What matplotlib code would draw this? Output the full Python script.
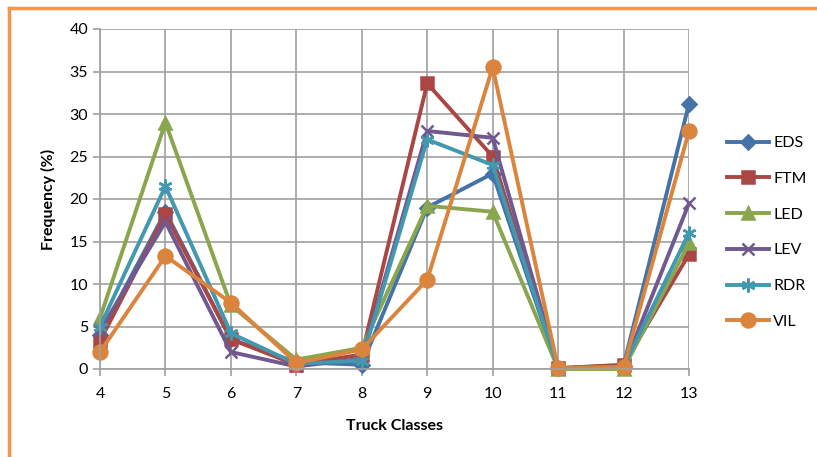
import matplotlib
matplotlib.use("Agg")
import matplotlib.pyplot as plt
from matplotlib.lines import Line2D

classes = [4, 5, 6, 7, 8, 9, 10, 11, 12, 13]
eds = [4.0, 18.5, 3.5, 0.8, 0.5, 19.0, 23.0, 0.1, 0.4, 31.2]
ftm = [3.3, 18.2, 3.5, 0.5, 1.7, 33.6, 25.0, 0.1, 0.5, 13.5]
led = [6.0, 29.0, 7.5, 1.1, 2.5, 19.2, 18.5, 0.0, 0.0, 14.8]
lev = [4.5, 17.3, 2.0, 0.3, 1.2, 28.0, 27.2, 0.1, 0.2, 19.5]
rdr = [5.0, 21.5, 4.2, 0.6, 1.0, 27.0, 24.0, 0.1, 0.3, 16.0]
vil = [2.0, 13.3, 7.8, 0.7, 2.3, 10.5, 35.5, 0.1, 0.2, 28.0]

series = [
    ("EDS", eds, "#4572A7", "D", 7),
    ("FTM", ftm, "#AA4643", "s", 9),
    ("LED", led, "#89A54E", "^", 9),
    ("LEV", lev, "#71588F", "x", 9),
    ("RDR", rdr, "#4198AF", (6, 2, 0), 10),
    ("VIL", vil, "#DB843D", "o", 10),
]

plt.rcParams['font.family'] = ['Lato', 'DejaVu Sans']

fig = plt.figure(figsize=(8.17, 4.57), dpi=100)
ax = fig.add_axes([100 / 817, 88 / 457, 589 / 817, 340 / 457])

for name, vals, col, mk, ms in series:
    ax.plot(classes, vals, color=col, lw=2.8, marker=mk, markersize=ms,
            markeredgecolor=col, markeredgewidth=1.8, label=name, clip_on=False)

ax.set_xlim(4, 13)
ax.set_ylim(0, 40)
ax.set_xticks(classes)
ax.set_yticks(range(0, 41, 5))
ax.grid(True, color="#A0A0A0", lw=1.2)
ax.set_axisbelow(True)
for s in ["top", "right"]:
    ax.spines[s].set_visible(False)
for s in ["left", "bottom"]:
    ax.spines[s].set_color("#A0A0A0")
    ax.spines[s].set_linewidth(1.2)
ax.tick_params(axis="both", colors="#A0A0A0", labelcolor="black", labelsize=11.5,
               length=5, width=1.2)
ax.tick_params(axis="x", pad=8)
ax.set_xlabel("Truck Classes", fontsize=11.5, fontweight="bold", labelpad=13)
ax.set_ylabel("Frequency (%)", fontsize=11.5, fontweight="bold", labelpad=10)

leg = fig.legend(loc="upper left", bbox_to_anchor=(727 / 817, 1 - 136 / 457),
                 frameon=False, fontsize=11.5, handlelength=2.6, handletextpad=0.3,
                 labelspacing=1.35, borderpad=0, borderaxespad=0)

# orange frame (top and left)
fig.add_artist(Line2D([9 / 817, 1.0], [1 - 8 / 457, 1 - 8 / 457], color="#F79646",
                      lw=2.5, transform=fig.transFigure))
fig.add_artist(Line2D([9 / 817, 9 / 817], [0, 1 - 8 / 457], color="#F79646",
                      lw=2.5, transform=fig.transFigure))

fig.savefig("out.png", dpi=100)
